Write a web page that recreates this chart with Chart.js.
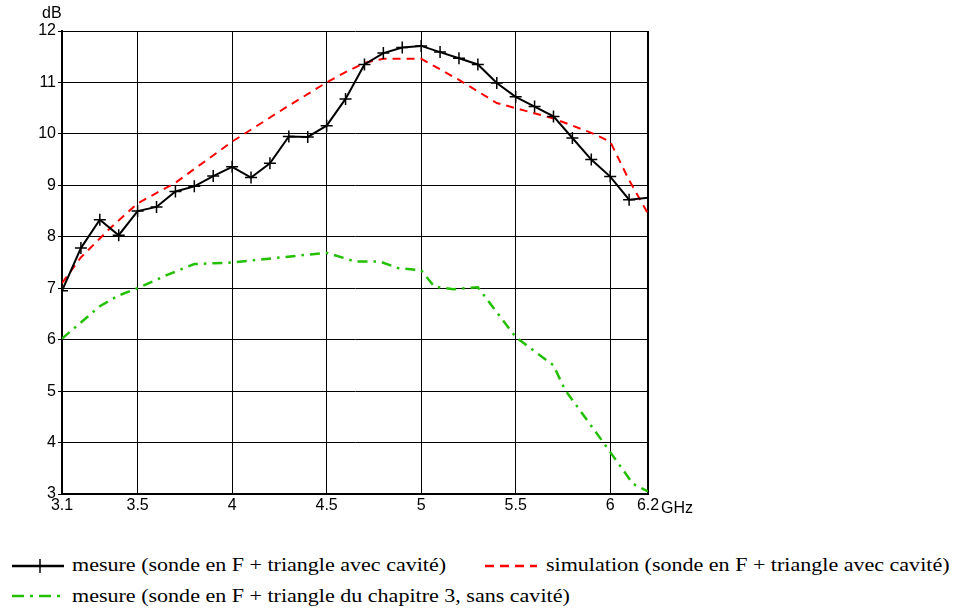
<!DOCTYPE html>
<html>
<head>
<meta charset="utf-8">
<script src="https://cdn.jsdelivr.net/npm/chart.js@4"></script>
<style>
  html,body{margin:0;padding:0;background:#fff;}
  #wrap{position:relative;width:958px;height:608px;overflow:hidden;}
  #c{position:absolute;left:0;top:0;}
  .lbl{position:absolute;font-family:"Liberation Sans",Arial,sans-serif;font-size:16px;color:#000;white-space:nowrap;}
  .leg{position:absolute;font-family:"Liberation Serif","Times New Roman",serif;font-size:19px;color:#000;white-space:nowrap;transform:scaleX(1.16);transform-origin:0 0;}
  svg{position:absolute;}
</style>
</head>
<body>
<div id="wrap">
  <canvas id="c" width="958" height="520"></canvas>
  <div class="lbl" style="left:42px;top:4px;">dB</div>
  <div class="lbl" style="left:661px;top:499px;">GHz</div>

  <svg style="left:10px;top:556px;" width="56" height="20"><line x1="2" y1="10" x2="54" y2="10" stroke="#000" stroke-width="2.5"/><line x1="30" y1="3" x2="30" y2="17" stroke="#000" stroke-width="1.5"/></svg>
  <div class="leg" style="left:72px;top:554px;">mesure (sonde en F + triangle avec cavité)</div>

  <svg style="left:483px;top:556px;" width="56" height="20"><line x1="2" y1="10" x2="54" y2="10" stroke="#ff0000" stroke-width="2.5" stroke-dasharray="9,6"/></svg>
  <div class="leg" style="left:546px;top:554px;">simulation (sonde en F + triangle avec cavité)</div>

  <svg style="left:10px;top:586px;" width="56" height="20"><line x1="2" y1="10" x2="54" y2="10" stroke="#22c000" stroke-width="2.5" stroke-dasharray="12,6,3,6"/></svg>
  <div class="leg" style="left:72px;top:585px;">mesure (sonde en F + triangle du chapitre 3, sans cavité)</div>
</div>
<script>
// ---- data ----
const xTicks = [3.1, 3.5, 4, 4.5, 5, 5.5, 6, 6.2];
const yMin = 3, yMax = 12;

const measX = [3.1,3.2,3.3,3.4,3.5,3.6,3.7,3.8,3.9,4.0,4.1,4.2,4.3,4.4,4.5,4.6,4.7,4.8,4.9,5.0,5.1,5.2,5.3,5.4,5.5,5.6,5.7,5.8,5.9,6.0,6.1,6.2];
const measY = [6.95,7.78,8.33,8.03,8.5,8.58,8.88,8.98,9.18,9.36,9.15,9.43,9.95,9.94,10.16,10.68,11.35,11.57,11.68,11.71,11.59,11.47,11.35,10.99,10.72,10.53,10.34,9.92,9.5,9.17,8.72,8.76];

const simX = [3.1,3.2,3.35,3.5,3.7,4.0,4.3,4.5,4.6,4.7,4.8,5.0,5.2,5.4,5.5,5.7,5.9,6.0,6.1,6.2];
const simY = [7.1,7.6,8.15,8.65,9.05,9.85,10.55,11.0,11.2,11.38,11.46,11.46,11.05,10.6,10.5,10.3,10.02,9.85,9.1,8.45];

const noCavX = [3.1,3.3,3.4,3.5,3.65,3.8,4.0,4.5,4.58,4.65,4.78,4.88,5.0,5.07,5.17,5.3,5.5,5.7,5.76,5.97,6.12,6.2];
const noCavY = [6.02,6.65,6.86,7.0,7.25,7.47,7.5,7.69,7.6,7.52,7.52,7.39,7.35,7.03,6.98,7.02,6.05,5.5,5.03,3.97,3.2,3.05];

const pts = (xs, ys) => xs.map((x, i) => ({x: x, y: ys[i]}));

new Chart(document.getElementById('c'), {
  type: 'line',
  data: {
    datasets: [
      {
        label: 'mesure (sonde en F + triangle avec cavité)',
        data: pts(measX, measY),
        borderColor: '#000', backgroundColor: '#000', borderWidth: 2,
        pointStyle: 'cross', pointBorderColor: '#000', pointBorderWidth: 1.5,
        pointRadius: ctx => ctx.dataIndex === measX.length - 1 ? 0 : 6,
        tension: 0, order: 0
      },
      {
        label: 'simulation (sonde en F + triangle avec cavité)',
        data: pts(simX, simY),
        borderColor: '#ff0000', borderWidth: 2, borderDash: [8, 6],
        pointRadius: 0, tension: 0, order: 1
      },
      {
        label: 'mesure (sonde en F + triangle du chapitre 3, sans cavité)',
        data: pts(noCavX, noCavY),
        borderColor: '#22c000', borderWidth: 2.5, borderDash: [10, 6, 2.5, 6],
        pointRadius: 0, tension: 0, order: 2
      }
    ]
  },
  options: {
    responsive: false, animation: false,
    layout: {padding: {left: 0, top: 31, right: 310, bottom: 0}},
    plugins: {legend: {display: false}, tooltip: {enabled: false}},
    scales: {
      x: {
        type: 'linear', min: 3.1, max: 6.2,
        afterBuildTicks: s => { s.ticks = xTicks.map(v => ({value: v})); },
        afterFit: s => { s.height = 26; },
        ticks: {autoSkip: false, maxRotation: 0, color: '#000', padding: 2,
          font: {family: 'Liberation Sans, Arial, sans-serif', size: 16},
          callback: v => String(v)},
        grid: {color: '#000', lineWidth: c => (c.tick && c.tick.value === 6.2) ? 2 : 1, drawTicks: false},
        border: {color: '#000', width: 2}
      },
      y: {
        min: yMin, max: yMax,
        afterFit: s => { s.width = 62; },
        ticks: {stepSize: 1, color: '#000', padding: 2,
          font: {family: 'Liberation Sans, Arial, sans-serif', size: 16}},
        grid: {color: '#000', lineWidth: 1, tickLength: 4, drawTicks: true},
        border: {color: '#000', width: 2}
      }
    }
  }
});
</script>
</body>
</html>
